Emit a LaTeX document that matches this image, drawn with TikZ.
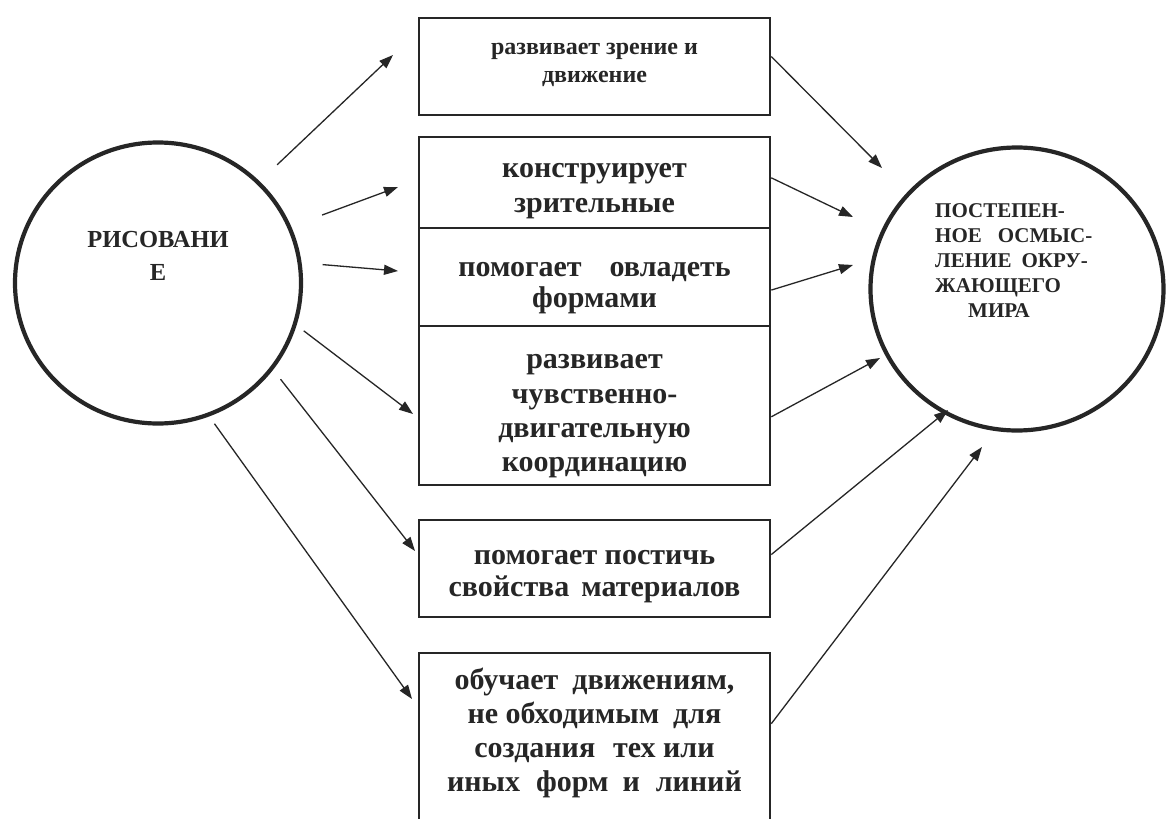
\documentclass[tikz,border=0pt]{standalone}
\usepackage{fontspec}
\setmainfont{Liberation Serif}
\usetikzlibrary{arrows.meta,calc,shapes.geometric}
\definecolor{ink}{HTML}{262626}
\begin{document}
\begin{tikzpicture}[x=1pt,y=-1pt,
  box/.style={draw=ink, line width=2.6pt, minimum width=351pt, inner sep=0pt},
  boxtext/.style={text=ink, inner sep=0pt, align=center, font=\bfseries\fontsize{30}{34}\selectfont},
  ring/.style={draw=ink, ellipse, line width=4.2pt, inner sep=0pt},
  arr/.style={draw=ink, line width=1.3pt, -{Triangle[length=14pt,width=10pt]}},
  lbl/.style={text=ink, inner sep=0pt}]
\fill[white] (0,0) rectangle (1168,819);
\useasboundingbox (0,0) rectangle (1168,819);

% circles
\node[ring, minimum width=286pt, minimum height=281pt] (L) at (158,283) {};
\node[ring, minimum width=293pt, minimum height=283pt] (R) at (1017,289) {};
\node[lbl, align=center, font=\bfseries\fontsize{24.5}{33}\selectfont] (Lt) at (158,256) {РИСОВАНИ\\Е};
\node[lbl, anchor=west, align=left, font=\bfseries\fontsize{21}{25}\selectfont] (Rt) at (935,261)
  {ПОСТЕПЕН-\\НОЕ\hspace{16pt}ОСМЫС-\\ЛЕНИЕ\hspace{10pt}ОКРУ-\\ЖАЮЩЕГО\\\hspace*{33pt}МИРА};

% boxes
\node[box, minimum height=97pt] (b1) at (594.5,66.5) {};
\node[box, minimum height=91pt] (b2) at (594.5,182.5) {};
\node[box, minimum height=98pt] (b3) at (594.5,277) {};
\node[box, minimum height=159pt] (b4) at (594.5,405.5) {};
\node[box, minimum height=97pt] (b5) at (594.5,568.5) {};
\node[box, minimum height=192pt] (b6) at (594.5,749) {};

% box texts
\node[boxtext, font=\bfseries\fontsize{24}{28}\selectfont] (x1) at (594.5,64.5) {развивает зрение и\\движение};
\node[boxtext, font=\bfseries\fontsize{30}{35}\selectfont] (x2) at (594.5,191.5) {конструирует\\зрительные};
\node[boxtext, font=\bfseries\fontsize{30}{31}\selectfont] (x3) at (594.5,288) {помогает\hspace{28pt}овладеть\\формами};
\node[boxtext, font=\bfseries\fontsize{30}{34.3}\selectfont] (x4) at (594.5,416.5) {развивает\\чувственно-\\двигательную\\координацию};
\node[boxtext, font=\bfseries\fontsize{30}{32}\selectfont] (x5) at (594.5,576.5) {помогает постичь\\свойства\hspace{12pt}материалов};
\node[boxtext] (x6) at (594.5,733)
  {обучает\hspace{14pt}движениям,\\не обходимым\hspace{14pt}для\\создания\hspace{18pt}тех или\\иных\hspace{16pt}форм\hspace{14pt}и\hspace{16pt}линий};

% free ends
\coordinate (t1) at (393,55);
\coordinate (t2) at (398,187);
\coordinate (t3) at (398,271);
\coordinate (t4) at (413,414);
\coordinate (t5) at (415,551);
\coordinate (t6) at (412,699);
\coordinate (u1) at (882,168);
\coordinate (u2) at (853,217);
\coordinate (u3) at (853,265);
\coordinate (u4) at (880,358);
\coordinate (u5) at (948,410);
\coordinate (u6) at (982,447);

% left arrows
\draw[arr, shorten <=24pt] (L.45) -- (t1);
\draw[arr, shorten <=33pt] (L.23) -- (t2);
\draw[arr, shorten <=21pt] (L.8) -- (t3);
\draw[arr, shorten <=9pt] (L.-17) -- (t4);
\draw[arr, shorten <=12pt] (L.-37) -- (t5);
\draw[arr, shorten <=9pt] (L.-69) -- (t6);

% right arrows
\draw[arr] ($(b1.north east)!0.40!(b1.south east)$) -- (u1);
\draw[arr] ($(b2.north east)!0.45!(b2.south east)$) -- (u2);
\draw[arr] ($(b3.north east)!0.63!(b3.south east)$) -- (u3);
\draw[arr] ($(b4.north east)!0.57!(b4.south east)$) -- (u4);
\draw[arr] ($(b5.north east)!0.36!(b5.south east)$) -- (u5);
\draw[arr] ($(b6.north east)+(0,72)$) -- (u6);
\end{tikzpicture}
\end{document}
